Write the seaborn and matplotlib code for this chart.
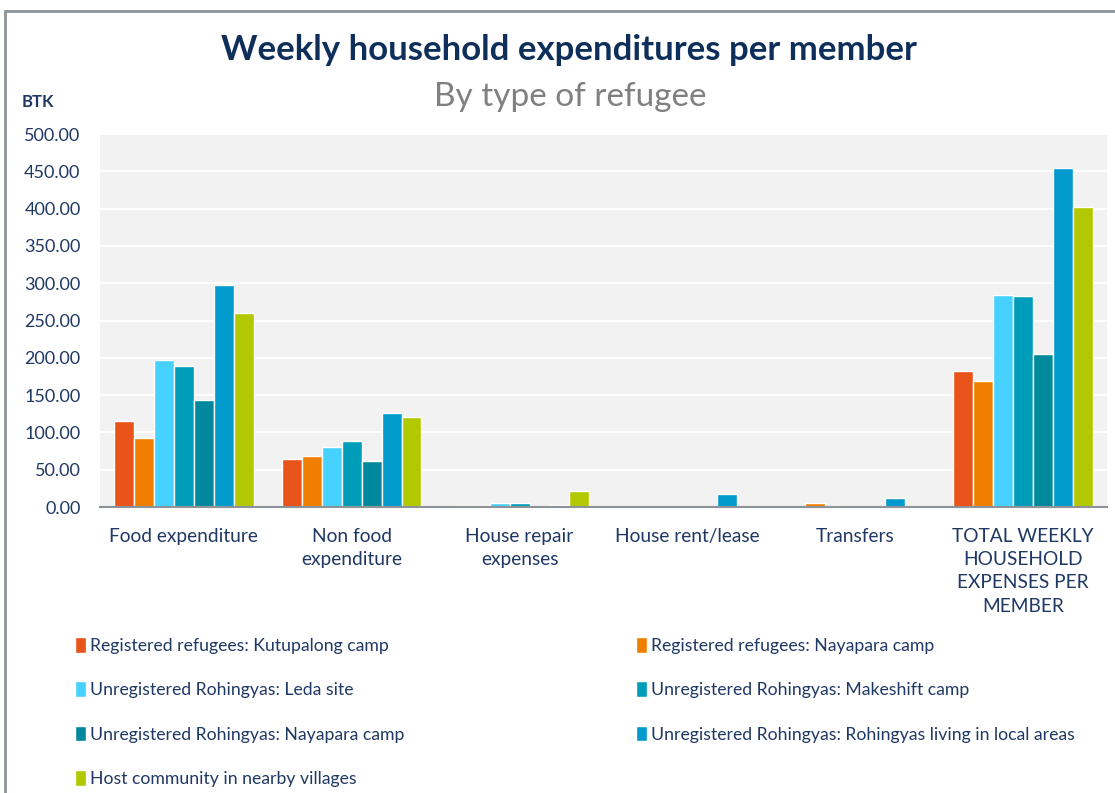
import pandas as pd
import numpy as np
import matplotlib.pyplot as plt
import seaborn as sns
from matplotlib.patches import Patch, Rectangle

# Datos (BTK por miembro y semana)
categories = ['Food expenditure', 'Non food\nexpenditure', 'House repair\nexpenses',
              'House rent/lease', 'Transfers',
              'TOTAL WEEKLY\nHOUSEHOLD\nEXPENSES PER\nMEMBER']
groups = ['Registered refugees: Kutupalong camp',
          'Registered refugees: Nayapara camp',
          'Unregistered Rohingyas: Leda site',
          'Unregistered Rohingyas: Makeshift camp',
          'Unregistered Rohingyas: Nayapara camp',
          'Unregistered Rohingyas: Rohingyas living in local areas',
          'Host community in nearby villages']
kutupalong = [115, 65, 2, 0, 0, 182]
nayapara_reg = [93, 69, 2, 0, 5, 169]
leda = [197, 81, 6, 0, 1.5, 284]
makeshift = [189, 89, 6, 0, 0, 283]
nayapara_unreg = [143, 61, 0, 0, 0, 205]
local_areas = [297, 126, 3, 17, 12, 454]
host = [260, 120, 21, 0, 0, 402]
colors = ['#E8541A', '#F07F00', '#47D1FF', '#009DBA', '#00899C', '#009ACD', '#B2C800']

series = [kutupalong, nayapara_reg, leda, makeshift, nayapara_unreg, local_areas, host]
rows = []
for g, vals in zip(groups, series):
    for c, v in zip(categories, vals):
        rows.append({'category': c, 'group': g, 'value': v})
df = pd.DataFrame(rows)

navy = '#1F3864'
sns.set_style('white')
plt.rcParams['font.family'] = ['Lato', 'DejaVu Sans']

fig = plt.figure(figsize=(11.15, 7.93), dpi=100)
ax = fig.add_axes([100 / 1115, 1 - 507 / 793, 1007 / 1115, 373 / 793])
ax.set_facecolor('#F2F2F2')

sns.barplot(data=df, x='category', y='value', hue='group', palette=colors,
            saturation=1, width=0.83, gap=0, ax=ax, legend=False, zorder=3)

ax.set_ylim(0, 500)
ax.set_yticks(np.arange(0, 501, 50))
ax.set_yticklabels([f'{v:.2f}' for v in np.arange(0, 501, 50)])
ax.set_xticks(range(len(categories)))
ax.set_xticklabels(categories, linespacing=1.45, fontsize=13.8, color=navy, va='top')
ax.grid(axis='y', color='white', linewidth=1.5, zorder=0)
ax.set_axisbelow(True)
for s in ['top', 'right', 'left']:
    ax.spines[s].set_visible(False)
ax.spines['bottom'].set_color('#8C9399')
ax.spines['bottom'].set_linewidth(1.5)
ax.spines['bottom'].set_zorder(4)
ax.tick_params(axis='y', length=0, pad=14, labelsize=13, labelcolor=navy)
ax.tick_params(axis='x', length=0, pad=15)
ax.set_xlabel('')
ax.set_ylabel('')

# Títulos
fig.text(0.51, 1 - 50 / 793, 'Weekly household expenditures per member',
         ha='center', va='center', fontsize=25, fontweight='bold', color='#0E2F5A')
fig.text(0.511, 1 - 97 / 793, 'By type of refugee', ha='center', va='center',
         fontsize=24, color='#808080')
fig.text(22 / 1115, 1 - 102 / 793, 'BTK', ha='left', va='center',
         fontsize=12, fontweight='bold', color=navy)

# Leyenda en dos columnas
handles = [Patch(facecolor=c, label=g) for c, g in zip(colors, groups)]
left_col = [handles[i] for i in (0, 2, 4, 6)]
right_col = [handles[i] for i in (1, 3, 5)]
kw = dict(frameon=False, fontsize=12.7, labelcolor=navy, handlelength=0.6,
          handleheight=1.0, handletextpad=0.25, labelspacing=1.55, borderaxespad=0)
leg1 = fig.legend(handles=left_col, loc='upper left',
                  bbox_to_anchor=(68 / 1115, 1 - 630 / 793), **kw)
leg2 = fig.legend(handles=right_col, loc='upper left',
                  bbox_to_anchor=(629 / 1115, 1 - 630 / 793), **kw)

# Marco gris
fig.patches.append(Rectangle((5 / 1115, -0.01), 1.2, 1 - 11 / 793 + 0.01,
                             transform=fig.transFigure, fill=False,
                             edgecolor='#8C9399', linewidth=2))

fig.savefig('out.png', dpi=100)
